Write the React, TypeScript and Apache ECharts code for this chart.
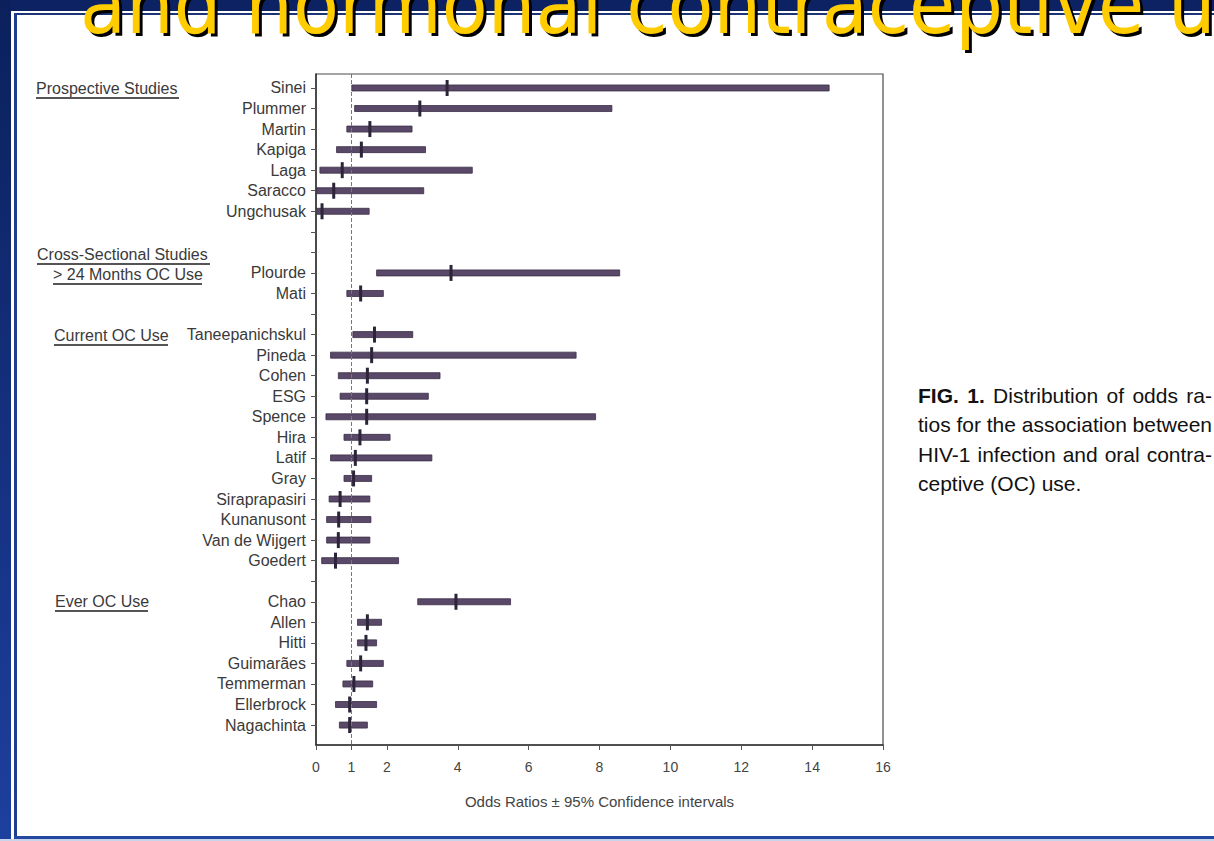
import React, { useEffect, useRef } from "react";
import * as echarts from "echarts";

const studies: string[] = [
  "Sinei", "Plummer", "Martin", "Kapiga", "Laga", "Saracco", "Ungchusak", "", "",
  "Plourde", "Mati", "",
  "Taneepanichskul", "Pineda", "Cohen", "ESG", "Spence", "Hira", "Latif", "Gray",
  "Siraprapasiri", "Kunanusont", "Van de Wijgert", "Goedert", "",
  "Chao", "Allen", "Hitti", "Guimarães", "Temmerman", "Ellerbrock", "Nagachinta",
];
const lower: (number | null)[] = [
  1.01, 1.09, 0.87, 0.58, 0.11, 0.02, 0.03, null, null,
  1.71, 0.87, null,
  1.04, 0.41, 0.63, 0.68, 0.28, 0.79, 0.41, 0.79, 0.37, 0.3, 0.3, 0.16, null,
  2.87, 1.17, 1.17, 0.87, 0.76, 0.55, 0.66,
];
const estimate: (number | null)[] = [
  3.7, 2.93, 1.52, 1.28, 0.74, 0.5, 0.17, null, null,
  3.81, 1.26, null,
  1.65, 1.57, 1.45, 1.43, 1.43, 1.24, 1.11, 1.06, 0.68, 0.64, 0.63, 0.55, null,
  3.95, 1.45, 1.41, 1.26, 1.07, 0.95, 0.95,
];
const upper: (number | null)[] = [
  14.48, 8.35, 2.71, 3.09, 4.41, 3.04, 1.5, null, null,
  8.57, 1.9, null,
  2.73, 7.34, 3.5, 3.17, 7.89, 2.09, 3.27, 1.57, 1.52, 1.55, 1.52, 2.33, null,
  5.49, 1.85, 1.71, 1.9, 1.6, 1.71, 1.45,
];
const xTicks: number[] = [0, 1, 2, 4, 6, 8, 10, 12, 14, 16];
const groupLabels: string[] = [
  "Prospective Studies",
  "Cross-Sectional Studies",
  "> 24 Months OC Use",
  "Current OC Use",
  "Ever OC Use",
];
const captionLead = "FIG. 1.";
const captionLines: string[] = [
  "Distribution of odds ra-",
  "tios for the association between",
  "HIV-1 infection and oral contra-",
  "ceptive (OC) use.",
];
const titleText = "and hormonal contraceptive use";

const FONT = "'Liberation Sans', Arial, Helvetica, sans-serif";
const CAP_SIZE = 21;

function measure(text: string, font: string): number {
  const c = document.createElement("canvas").getContext("2d");
  if (!c) return text.length * 9;
  c.font = font;
  return c.measureText(text).width;
}

export default function App() {
  const ref = useRef<HTMLDivElement>(null);
  useEffect(() => {
    if (!ref.current) return;
    const chart = echarts.init(ref.current, undefined, { renderer: "svg" });

    const data: number[][] = [];
    studies.forEach((_, i) => {
      if (lower[i] != null && upper[i] != null && estimate[i] != null) {
        data.push([i, lower[i] as number, estimate[i] as number, upper[i] as number]);
      }
    });
    const rows = studies.map((_, i) => i);

    const groupPos = [
      [36, 88, 143],
      [37, 254, 173],
      [53, 274, 149],
      [54, 335, 114],
      [55, 601, 93],
    ];

    const titleFont = `73px 'DejaVu Sans', Verdana, sans-serif`;
    const graphics: any[] = [
      { type: "rect", z: 1, shape: { x: 0, y: 0, width: 1214, height: 11 }, style: { fill: "#0c2262" } },
      {
        type: "rect", z: 1, shape: { x: 0, y: 0, width: 11, height: 841 },
        style: {
          fill: new echarts.graphic.LinearGradient(0, 0, 0, 1, [
            { offset: 0, color: "#0b205c" },
            { offset: 1, color: "#1d3f9e" },
          ]),
        },
      },
      { type: "rect", z: 1, shape: { x: 14, y: 13, width: 1200, height: 2 }, style: { fill: "#1a3478" } },
      { type: "rect", z: 1, shape: { x: 14, y: 13, width: 3, height: 828 }, style: { fill: "#1e3d8e" } },
      { type: "rect", z: 1, shape: { x: 14, y: 836, width: 1200, height: 3 }, style: { fill: "#2448a0" } },
      { type: "rect", z: 1, shape: { x: 0, y: 839, width: 1214, height: 2 }, style: { fill: "#c8d4ec" } },
      {
        type: "text", z: 10, x: 83, y: 8, scaleX: 1.03, scaleY: 1.12,
        style: { text: titleText, fill: "#000000", font: titleFont, textAlign: "left", textVerticalAlign: "middle" },
      },
      {
        type: "text", z: 11, x: 80, y: 5, scaleX: 1.03, scaleY: 1.12,
        style: { text: titleText, fill: "#ffcc00", font: titleFont, textAlign: "left", textVerticalAlign: "middle" },
      },
    ];

    groupLabels.forEach((t, k) => {
      const [gx, gy, w] = groupPos[k];
      graphics.push({
        type: "text", z: 5, x: gx, y: gy,
        style: { text: t, fill: "#3a3a3a", font: `16px ${FONT}`, textAlign: "left", textVerticalAlign: "middle" },
      });
      graphics.push({
        type: "rect", z: 5, shape: { x: gx, y: gy + 9, width: w, height: 2 },
        style: { fill: "#555555" },
      });
    });

    // justified caption paragraph
    const capLeft = 918;
    const capRight = 1212;
    const normalFont = `${CAP_SIZE}px ${FONT}`;
    const boldFont = `bold ${CAP_SIZE}px ${FONT}`;
    captionLines.forEach((line, k) => {
      const y = 395 + k * 29.5;
      const words: { t: string; bold: boolean }[] = [];
      if (k === 0) captionLead.split(" ").forEach((w) => words.push({ t: w, bold: true }));
      line.split(" ").forEach((w) => words.push({ t: w, bold: false }));
      const widths = words.map((w) => measure(w.t, w.bold ? boldFont : normalFont));
      const total = widths.reduce((a, b) => a + b, 0);
      const last = k === captionLines.length - 1;
      const spaceW = measure(" ", normalFont);
      const gaps = words.length - 1;
      const gap = last ? spaceW : Math.max(spaceW * 0.7, (capRight - capLeft - total) / gaps);
      let x = capLeft;
      words.forEach((w, i) => {
        graphics.push({
          type: "text", z: 5, x, y,
          style: {
            text: w.t, fill: "#111", font: w.bold ? boldFont : normalFont,
            textAlign: "left", textVerticalAlign: "middle",
          },
        });
        x += widths[i] + gap;
      });
    });

    chart.setOption({
      animation: false,
      backgroundColor: "#ffffff",
      textStyle: { fontFamily: FONT },
      grid: {
        left: 316, right: 331, top: 74, bottom: 96,
        show: true, borderColor: "#4a4a4a", borderWidth: 1.2, backgroundColor: "transparent",
      },
      xAxis: {
        type: "value", min: 0, max: 16,
        axisLine: { show: true, onZero: false, lineStyle: { color: "#333", width: 1.5 } },
        axisTick: { show: true, customValues: xTicks, length: 5, lineStyle: { color: "#555" } },
        axisLabel: { customValues: xTicks, color: "#444", fontSize: 14, margin: 15, fontFamily: FONT },
        splitLine: { show: false },
        name: "Odds Ratios ± 95% Confidence intervals",
        nameLocation: "middle",
        nameGap: 49,
        nameTextStyle: { color: "#444", fontSize: 15, fontFamily: FONT },
      },
      yAxis: {
        type: "value", inverse: true, min: -0.68, max: 31.97,
        axisLine: { show: true, onZero: false, lineStyle: { color: "#333", width: 1.5 } },
        axisTick: { show: true, customValues: rows, length: 5, lineStyle: { color: "#555" } },
        axisLabel: {
          customValues: rows,
          formatter: (v: number) => studies[Math.round(v)] ?? "",
          color: "#3a3a3a", fontSize: 16, margin: 10, fontFamily: FONT,
        },
        splitLine: { show: false },
      },
      graphic: graphics,
      series: [
        {
          type: "custom",
          coordinateSystem: "cartesian2d",
          encode: { x: [1, 2, 3], y: 0 },
          data,
          renderItem: (params: any, api: any) => {
            const y = api.value(0);
            const lo = api.coord([api.value(1), y]);
            const est = api.coord([api.value(2), y]);
            const hi = api.coord([api.value(3), y]);
            return {
              type: "group",
              children: [
                {
                  type: "rect",
                  shape: { x: lo[0], y: lo[1] - 3, width: hi[0] - lo[0], height: 6 },
                  style: { fill: "#5a4868", stroke: "#3a2e46", lineWidth: 0.8 },
                },
                {
                  type: "rect",
                  shape: { x: est[0] - 1.5, y: est[1] - 8, width: 3, height: 16 },
                  style: { fill: "#2c2438" },
                },
              ],
            };
          },
          markLine: {
            silent: true,
            symbol: "none",
            label: { show: false },
            lineStyle: { color: "#777", type: "dashed", width: 1 },
            data: [{ xAxis: 1 }],
          },
        },
      ],
    });
    return () => chart.dispose();
  }, []);
  return <div ref={ref} style={{ position: "fixed", left: 0, top: 0, width: 1214, height: 841 }} />;
}
